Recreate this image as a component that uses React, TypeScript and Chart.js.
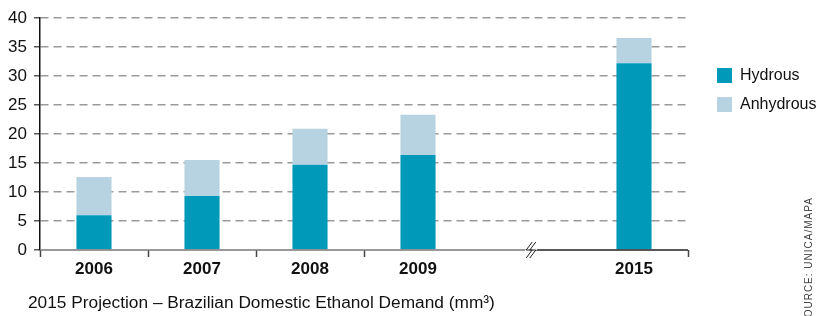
import React, { useEffect, useRef } from "react";
import { Chart, registerables } from "chart.js";

Chart.register(...registerables);

const categories = ["2006", "2007", "2008", "2009", "", "2015"];
const hydrous = [6.0, 9.3, 14.7, 16.4, null, 32.2];
const anhydrous = [6.6, 6.2, 6.2, 6.9, null, 4.35];
const yTicks = [0, 5, 10, 15, 20, 25, 30, 35, 40];
const seriesNames = ["Hydrous", "Anhydrous"];
const seriesColors = ["#0099b9", "#b7d3e1"];
const titleText = "2015 Projection – Brazilian Domestic Ethanol Demand (mm³)";
const sourceText = "SOURCE: UNICA/MAPA";
const breakIndex = 4;

const FONT = "'Liberation Sans', Arial, sans-serif";

const breakPlugin = {
  id: "axisBreak",
  afterDraw(chart: any) {
    const ctx = chart.ctx;
    const x = chart.scales.x;
    const y = chart.scales.y;
    const bx = x.getPixelForValue(breakIndex) + 5;
    const by = y.getPixelForValue(0);
    ctx.save();
    ctx.lineWidth = 1.5;
    ctx.strokeStyle = "#777";
    ctx.beginPath();
    ctx.moveTo(chart.chartArea.left, by);
    ctx.lineTo(bx - 4, by);
    ctx.stroke();
    ctx.strokeStyle = "#222";
    ctx.beginPath();
    ctx.moveTo(bx + 4, by);
    ctx.lineTo(chart.chartArea.right, by);
    ctx.stroke();
    const zig = (dx: number) => {
      ctx.beginPath();
      ctx.moveTo(bx + dx + 3, by - 8);
      ctx.lineTo(bx + dx - 3, by);
      ctx.lineTo(bx + dx + 3, by);
      ctx.lineTo(bx + dx - 3, by + 8);
      ctx.stroke();
    };
    ctx.strokeStyle = "#fff";
    ctx.lineWidth = 4;
    zig(0);
    ctx.strokeStyle = "#222";
    ctx.lineWidth = 1;
    zig(-1.8);
    zig(1.8);
    ctx.restore();
  },
};

export default function App() {
  const ref = useRef<HTMLCanvasElement>(null);
  useEffect(() => {
    if (!ref.current) return;
    const chart = new Chart(ref.current, {
      type: "bar",
      data: {
        labels: categories,
        datasets: [
          {
            label: seriesNames[0],
            data: hydrous as any,
            backgroundColor: seriesColors[0],
            barPercentage: 0.325,
            categoryPercentage: 1,
          },
          {
            label: seriesNames[1],
            data: anhydrous as any,
            backgroundColor: seriesColors[1],
            barPercentage: 0.325,
            categoryPercentage: 1,
          },
        ],
      },
      plugins: [breakPlugin],
      options: {
        responsive: false,
        animation: false,
        layout: { padding: { left: 0, right: 128, top: 18, bottom: 0 } },
        plugins: { legend: { display: false }, tooltip: { enabled: false } },
        scales: {
          x: {
            stacked: true,
            grid: {
              offset: true,
              drawOnChartArea: false,
              drawTicks: true,
              tickLength: 7,
              tickWidth: 1.5,
              tickColor: (c: any) =>
                c.index === 5 || c.index === 4 ? "rgba(0,0,0,0)" : "#444",
            },
            border: { display: false },
            ticks: {
              color: "#111",
              font: { family: FONT, size: 17, weight: "bold" },
              padding: 2,
            },
            afterFit: (s: any) => {
              s.height = 66;
            },
          },
          y: {
            stacked: true,
            min: 0,
            max: 40,
            afterBuildTicks: (s: any) => {
              s.ticks = yTicks.map((v) => ({ value: v }));
            },
            afterFit: (s: any) => {
              s.width = 40;
            },
            grid: {
              color: (c: any) => (c.tick && c.tick.value === 0 ? "rgba(0,0,0,0)" : "#9a9a9a"),
              lineWidth: 1.5,
              tickLength: 6,
              tickColor: "#555",
              tickWidth: 1.5,
            },
            border: { display: true, color: "#111", width: 1.5, dash: [8, 5] },
            ticks: {
              color: "#111",
              font: { family: FONT, size: 17 },
              padding: 7,
            },
          },
        },
      },
    } as any);
    return () => chart.destroy();
  }, []);

  return (
    <div style={{ position: "absolute", left: 0, top: 0, width: 816, height: 316, background: "#fff", overflow: "hidden", fontFamily: FONT }}>
      <canvas ref={ref} width={816} height={316} style={{ position: "absolute", left: 0, top: 0 }} />
      {seriesNames.map((n, i) => (
        <div key={n} style={{ position: "absolute", left: 717, top: 66 + i * 29, display: "flex", alignItems: "center", fontSize: 16, color: "#111", whiteSpace: "nowrap" }}>
          <div style={{ width: 15, height: 15, background: seriesColors[i], marginRight: 8 }} />
          <span>{n}</span>
        </div>
      ))}
      <div style={{ position: "absolute", left: 28, top: 292, fontSize: 17.3, color: "#111", whiteSpace: "nowrap" }}>
        {titleText}
      </div>
      <div style={{ position: "absolute", left: 803, top: 325, transform: "rotate(-90deg)", transformOrigin: "0 0", fontSize: 10, color: "#444", whiteSpace: "nowrap", letterSpacing: 1 }}>
        {sourceText}
      </div>
    </div>
  );
}
